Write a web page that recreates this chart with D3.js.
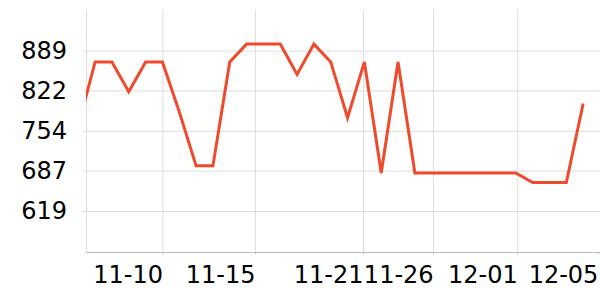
<!DOCTYPE html>
<html>
<head>
<meta charset="utf-8">
<script src="https://cdn.jsdelivr.net/npm/d3@7"></script>
<style>
  body { margin: 0; background: #fff; }
  svg { display: block; font-family: "DejaVu Sans", sans-serif; }
</style>
</head>
<body>
<svg id="chart"></svg>
<script>
let lineColor = "#F04A2C";
let gridColor = "#DDDDDD";
let axisColor = "#BBBBBB";

// daily values, 11-05 .. 12-05
const dates = [
  "2023-11-05", "2023-11-06", "2023-11-07", "2023-11-08", "2023-11-09", "2023-11-10",
  "2023-11-11", "2023-11-12", "2023-11-13", "2023-11-14", "2023-11-15", "2023-11-16",
  "2023-11-17", "2023-11-18", "2023-11-19", "2023-11-20", "2023-11-21", "2023-11-22",
  "2023-11-23", "2023-11-24", "2023-11-25", "2023-11-26", "2023-11-27", "2023-11-28",
  "2023-11-29", "2023-11-30", "2023-12-01", "2023-12-02", "2023-12-03", "2023-12-04",
  "2023-12-05"
];
const values = [
  762, 870, 870, 820, 870, 870,
  786, 695, 695, 870, 900, 900,
  900, 849, 900, 870, 776, 870,
  683, 870, 683, 683, 683, 683,
  683, 683, 683, 667, 667, 667,
  800
];

const yTicks = [619, 687, 754, 822, 889];
const yDomain = [550, 957.4];

const xTickTimes = [
  "2023-11-10T00:00Z", "2023-11-15T12:00Z", "2023-11-21T22:00Z",
  "2023-11-26T02:00Z", "2023-12-01T02:00Z", "2023-12-05T21:00Z"
];
const xDomain = ["2023-11-05T11:00Z", "2023-12-06T00:00Z"];

const width = 600;
const height = 300;
const margin = { top: 10, right: 0, bottom: 48, left: 86 };
const boundedWidth = width - margin.left - margin.right;
const boundedHeight = height - margin.top - margin.bottom;

const data = dates.map((d, i) => ({ date: new Date(d + "T00:00Z"), value: values[i] }));

const svg = d3.select("#chart")
  .attr("width", width)
  .attr("height", height);

const g = svg.append("g")
  .attr("transform", `translate(${margin.left}, ${margin.top})`);

const xScale = d3.scaleUtc()
  .domain(xDomain.map(d => new Date(d)))
  .range([0, boundedWidth]);

const yScale = d3.scaleLinear()
  .domain(yDomain)
  .range([boundedHeight, 0]);

const xTicks = xTickTimes.map(d => new Date(d));

//grid
g.append("g")
  .attr("class", "ygrid")
  .call(d3.axisLeft(yScale).tickValues(yTicks).tickSize(-boundedWidth).tickFormat(""))
  .call(s => s.select(".domain").remove())
  .selectAll("line").attr("stroke", gridColor);

g.append("g")
  .attr("class", "xgrid")
  .call(d3.axisBottom(xScale).tickValues(xTicks.slice(0, -1)).tickSize(boundedHeight).tickFormat(""))
  .call(s => s.select(".domain").remove())
  .selectAll("line").attr("stroke", gridColor);

//y axis
g.append("g")
  .attr("class", "yaxis")
  .call(d3.axisLeft(yScale).tickValues(yTicks).tickSize(3).tickPadding(16).tickSizeOuter(0))
  .call(s => s.select(".domain").attr("stroke", gridColor))
  .call(s => s.selectAll(".tick line").attr("stroke", gridColor))
  .call(s => s.selectAll(".tick text").attr("fill", "#000").style("font-size", "24px"))
  .attr("font-family", null);

//x axis
g.append("g")
  .attr("class", "xaxis")
  .attr("transform", `translate(0, ${boundedHeight})`)
  .call(d3.axisBottom(xScale).tickValues(xTicks).tickSize(2).tickPadding(12).tickSizeOuter(0)
    .tickFormat(d3.utcFormat("%m-%d")))
  .call(s => s.select(".domain").attr("stroke", axisColor))
  .call(s => s.selectAll(".tick line").attr("stroke", axisColor))
  .call(s => s.selectAll(".tick text").attr("fill", "#000").attr("text-anchor", "end").style("font-size", "24px"))
  .attr("font-family", null);

//line
svg.append("clipPath")
  .attr("id", "plot-clip")
  .append("rect")
  .attr("width", boundedWidth)
  .attr("height", boundedHeight);

const line = d3.line()
  .x(d => xScale(d.date))
  .y(d => yScale(d.value));

g.append("path")
  .datum(data)
  .attr("clip-path", "url(#plot-clip)")
  .attr("fill", "none")
  .attr("stroke", lineColor)
  .attr("stroke-width", 3)
  .attr("d", line);
</script>
</body>
</html>
